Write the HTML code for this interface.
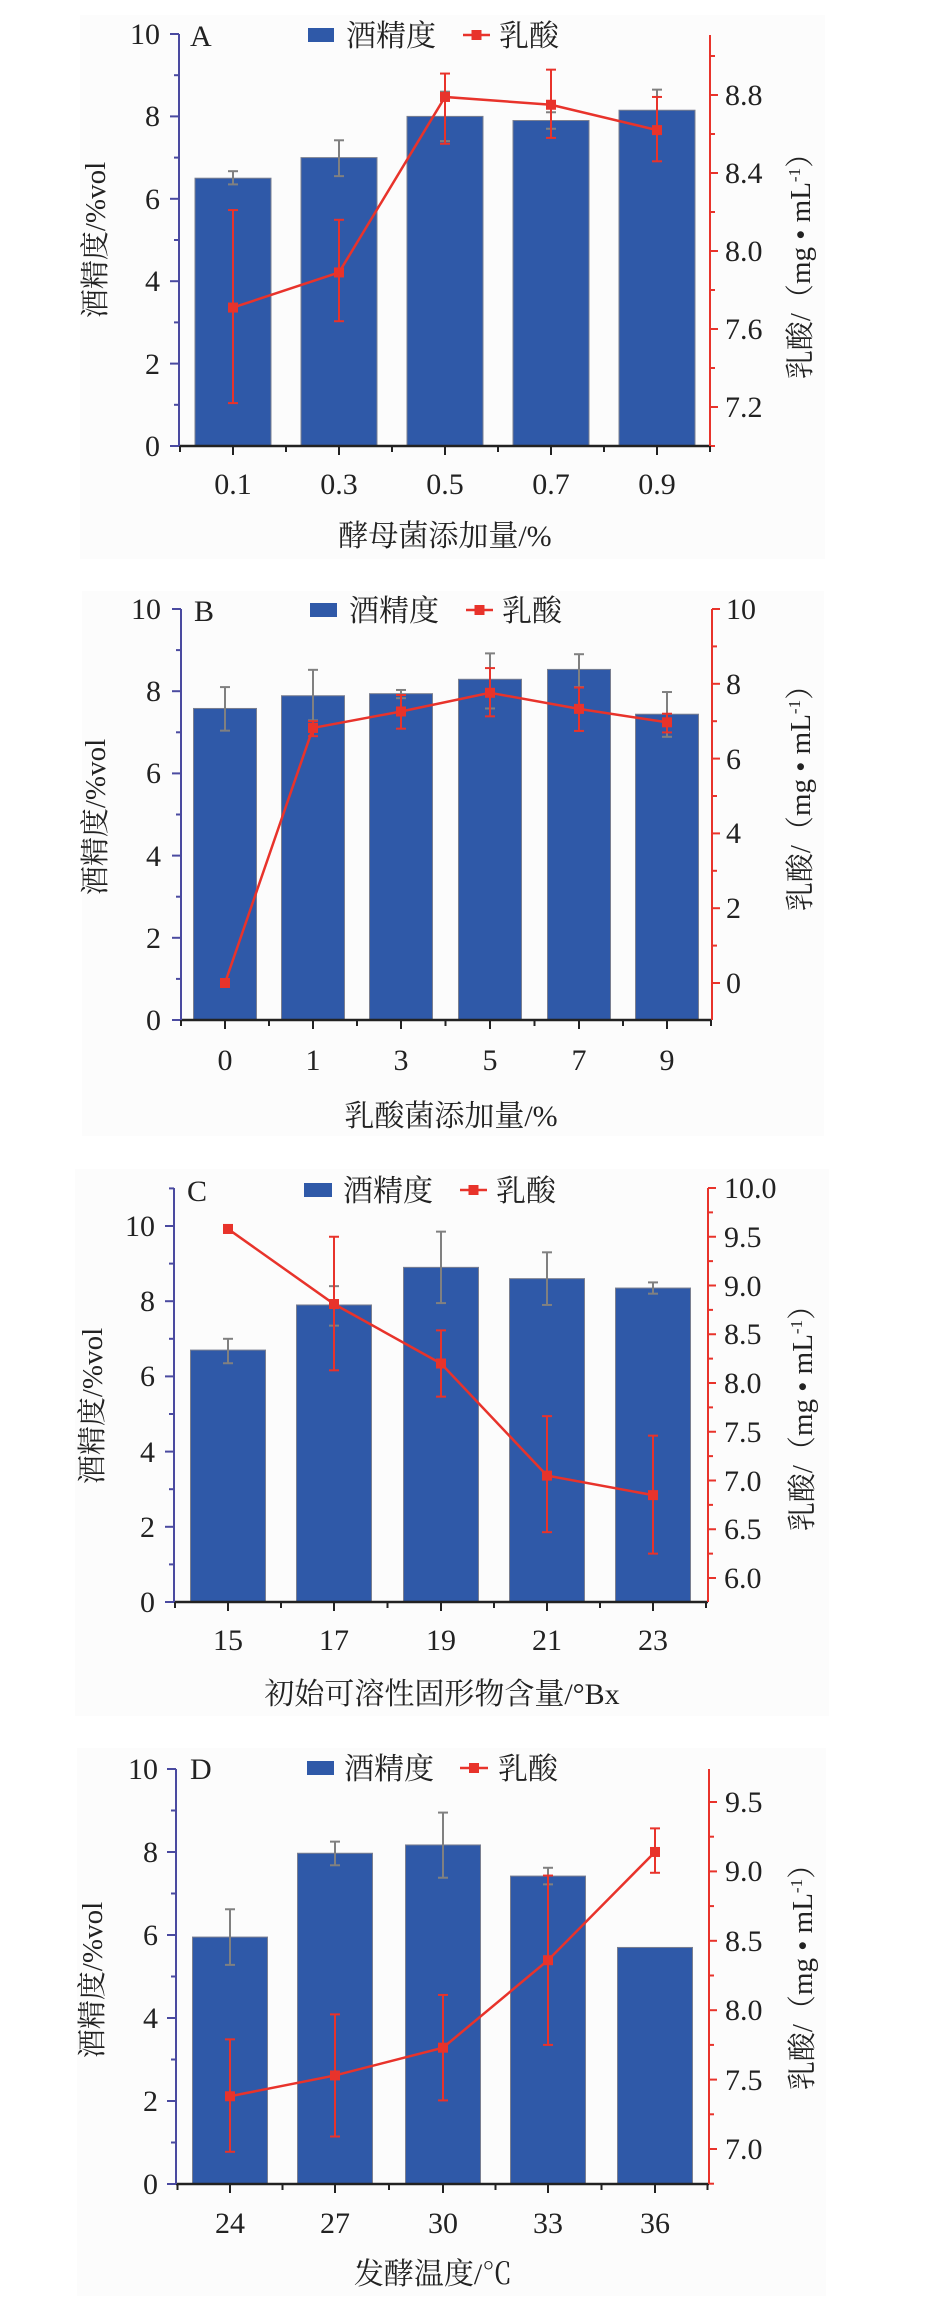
<!DOCTYPE html>
<html><head><meta charset="utf-8">
<style>
html,body{margin:0;padding:0;background:#fff;}
svg{display:block;}
.t{font-family:"Liberation Serif","Noto Serif CJK SC","Noto Sans CJK SC",serif;font-size:30px;fill:#222;}
.c{font-family:"Liberation Serif","Noto Serif CJK SC","Noto Sans CJK SC",serif;font-size:29px;fill:#222;}
</style></head>
<body>
<svg id="s" width="940" height="2313" viewBox="0 0 940 2313" xmlns="http://www.w3.org/2000/svg">
<rect x="80" y="15" width="745" height="544" fill="#fcfcfc"/>
<rect x="82" y="591" width="742" height="545" fill="#fcfcfc"/>
<rect x="75" y="1169" width="754" height="547" fill="#fcfcfc"/>
<rect x="77" y="1748" width="749" height="548" fill="#fcfcfc"/>
<g id="g"></g>

<!-- Panel A text -->
<g class="t" text-anchor="end">
<text x="160" y="456">0</text><text x="160" y="374">2</text><text x="160" y="291">4</text><text x="160" y="209">6</text><text x="160" y="126">8</text><text x="160" y="44">10</text>
</g>
<g class="t">
<text x="725" y="417">7.2</text><text x="725" y="339">7.6</text><text x="725" y="261">8.0</text><text x="725" y="183">8.4</text><text x="725" y="105">8.8</text>
<text x="190" y="46">A</text>
<text x="346" y="46">酒精度</text><text x="499" y="46">乳酸</text>
</g>
<g class="t" text-anchor="middle">
<text x="233" y="494">0.1</text><text x="339" y="494">0.3</text><text x="445" y="494">0.5</text><text x="551" y="494">0.7</text><text x="657" y="494">0.9</text>
<text x="445" y="546">酵母菌添加量/%</text>
</g>
<text class="c" text-anchor="middle" transform="translate(105,240) rotate(-90)">酒精度/%vol</text>
<text class="c" text-anchor="middle" transform="translate(810,259) rotate(-90)">乳酸/（mg • mL<tspan dy="-10" font-size="17">-1</tspan><tspan dy="10">）</tspan></text>

<!-- Panel B text -->
<g class="t" text-anchor="end">
<text x="161" y="1030">0</text><text x="161" y="948">2</text><text x="161" y="866">4</text><text x="161" y="783">6</text><text x="161" y="701">8</text><text x="161" y="619">10</text>
</g>
<g class="t">
<text x="726" y="993">0</text><text x="726" y="918">2</text><text x="726" y="843">4</text><text x="726" y="769">6</text><text x="726" y="694">8</text><text x="726" y="619">10</text>
<text x="194" y="621">B</text>
<text x="349" y="621">酒精度</text><text x="502" y="621">乳酸</text>
</g>
<g class="t" text-anchor="middle">
<text x="225" y="1070">0</text><text x="313" y="1070">1</text><text x="401" y="1070">3</text><text x="490" y="1070">5</text><text x="579" y="1070">7</text><text x="667" y="1070">9</text>
<text x="451" y="1126">乳酸菌添加量/%</text>
</g>
<text class="c" text-anchor="middle" transform="translate(105,817) rotate(-90)">酒精度/%vol</text>
<text class="c" text-anchor="middle" transform="translate(810,791) rotate(-90)">乳酸/（mg • mL<tspan dy="-10" font-size="17">-1</tspan><tspan dy="10">）</tspan></text>

<!-- Panel C text -->
<g class="t" text-anchor="end">
<text x="155" y="1612">0</text><text x="155" y="1537">2</text><text x="155" y="1462">4</text><text x="155" y="1386">6</text><text x="155" y="1311">8</text><text x="155" y="1236">10</text>
</g>
<g class="t">
<text x="724" y="1588">6.0</text><text x="724" y="1539">6.5</text><text x="724" y="1491">7.0</text><text x="724" y="1442">7.5</text><text x="724" y="1393">8.0</text><text x="724" y="1344">8.5</text><text x="724" y="1296">9.0</text><text x="724" y="1247">9.5</text><text x="724" y="1198">10.0</text>
<text x="187" y="1201">C</text>
<text x="343" y="1201">酒精度</text><text x="496" y="1201">乳酸</text>
</g>
<g class="t" text-anchor="middle">
<text x="228" y="1650">15</text><text x="334" y="1650">17</text><text x="441" y="1650">19</text><text x="547" y="1650">21</text><text x="653" y="1650">23</text>
<text x="442" y="1704">初始可溶性固形物含量/°Bx</text>
</g>
<text class="c" text-anchor="middle" transform="translate(102,1406) rotate(-90)">酒精度/%vol</text>
<text class="c" text-anchor="middle" transform="translate(812,1411) rotate(-90)">乳酸/（mg • mL<tspan dy="-10" font-size="17">-1</tspan><tspan dy="10">）</tspan></text>

<!-- Panel D text -->
<g class="t" text-anchor="end">
<text x="158" y="2194">0</text><text x="158" y="2111">2</text><text x="158" y="2028">4</text><text x="158" y="1945">6</text><text x="158" y="1862">8</text><text x="158" y="1779">10</text>
</g>
<g class="t">
<text x="725" y="2159">7.0</text><text x="725" y="2090">7.5</text><text x="725" y="2020">8.0</text><text x="725" y="1951">8.5</text><text x="725" y="1881">9.0</text><text x="725" y="1812">9.5</text>
<text x="190" y="1779">D</text>
<text x="344" y="1779">酒精度</text><text x="498" y="1779">乳酸</text>
</g>
<g class="t" text-anchor="middle">
<text x="230" y="2233">24</text><text x="335" y="2233">27</text><text x="443" y="2233">30</text><text x="548" y="2233">33</text><text x="655" y="2233">36</text>
<text x="433" y="2284">发酵温度/℃</text>
</g>
<text class="c" text-anchor="middle" transform="translate(812,1970) rotate(-90)">乳酸/（mg • mL<tspan dy="-10" font-size="17">-1</tspan><tspan dy="10">）</tspan></text>
<text class="c" text-anchor="middle" transform="translate(102,1980) rotate(-90)">酒精度/%vol</text>
</svg>
<script>
(function(){
var B='#2f59a8',R='#e8332b',AX='#4a4aa0',G='#808080';
var P=[
{lx:179,rx:710,y0:446,lu:41.2,ltop:34,rtop:35,
 rf:function(v){return 446-(v-7)*195;},rminor:[7.0,7.4,7.8,8.2,8.6,9.0],rmajor:[7.2,7.6,8.0,8.4,8.8],
 cx:[233,339,445,551,657],bw:76,
 bars:[6.5,7.0,8.0,7.9,8.15],ge:[[6.67,6.35],[7.42,6.55],[8.6,7.4],[8.1,7.7],[8.65,7.65]],
 rd:[7.71,7.89,8.79,8.75,8.62],re:[[8.21,7.22],[8.16,7.64],[8.91,8.55],[8.93,8.58],[8.79,8.46]],
 lg:[308,334,463,490,35]},
{lx:181,rx:712,y0:1020,lu:41.1,ltop:609,rtop:609,
 rf:function(v){return 983-v*37.4;},rminor:[-1,1,3,5,7,9],rmajor:[0,2,4,6,8,10],
 cx:[225,313,401,490,579,667],bw:63,
 bars:[7.58,7.89,7.94,8.29,8.53,7.44],ge:[[8.1,7.04],[8.52,7.29],[8.03,7.83],[8.92,7.58],[8.9,8.1],[7.98,6.89]],
 rd:[0,6.82,7.26,7.76,7.33,6.97],re:[null,[7.0,6.6],[7.7,6.8],[8.42,7.13],[7.9,6.74],[7.2,6.7]],
 lg:[310,337,466,493,610]},
{lx:174,rx:708,y0:1602,lu:37.6,ltop:1188,rtop:1188,
 rf:function(v){return 1578-(v-6)*97.5;},rminor:[5.75,6.25,6.75,7.25,7.75,8.25,8.75,9.25,9.75],rmajor:[6,6.5,7,7.5,8,8.5,9,9.5,10],
 cx:[228,334,441,547,653],bw:75,
 bars:[6.7,7.9,8.9,8.6,8.35],ge:[[7.0,6.35],[8.4,7.35],[9.85,7.95],[9.3,7.9],[8.5,8.2]],
 rd:[9.58,8.81,8.2,7.05,6.85],re:[[9.62,9.54],[9.5,8.13],[8.54,7.86],[7.66,6.47],[7.46,6.25]],
 lg:[304,332,460,487,1190]},
{lx:176,rx:709,y0:2184,lu:41.5,ltop:1769,rtop:1769,
 rf:function(v){return 2149-(v-7)*138.8;},rminor:[6.75,7.25,7.75,8.25,8.75,9.25,9.75],rmajor:[7,7.5,8,8.5,9,9.5],
 cx:[230,335,443,548,655],bw:75,
 bars:[5.95,7.97,8.17,7.42,5.7],ge:[[6.62,5.28],[8.25,7.68],[8.95,7.38],[7.62,7.22],null],
 rd:[7.38,7.53,7.73,8.36,9.14],re:[[7.79,6.98],[7.97,7.09],[8.11,7.35],[8.97,7.75],[9.31,8.99]],
 lg:[307,334,460,488,1768]}
];
var s='';
function L(x1,y1,x2,y2,c,w){s+='<line x1="'+x1+'" y1="'+y1+'" x2="'+x2+'" y2="'+y2+'" stroke="'+c+'" stroke-width="'+w+'"/>';}
P.forEach(function(p){
 var ly=function(v){return p.y0-v*p.lu;};
 p.bars.forEach(function(v,i){var y=ly(v);s+='<rect x="'+(p.cx[i]-p.bw/2)+'" y="'+y+'" width="'+p.bw+'" height="'+(p.y0-y)+'" fill="'+B+'" stroke="#7a7f90" stroke-width="1"/>';});
 p.ge.forEach(function(e,i){if(!e)return;var x=p.cx[i];L(x,ly(e[0]),x,ly(e[1]),G,2);L(x-5,ly(e[0]),x+5,ly(e[0]),G,2);L(x-5,ly(e[1]),x+5,ly(e[1]),G,2);});
 L(p.lx,p.y0,p.rx,p.y0,'#222',2.5);
 L(p.lx,p.ltop,p.lx,p.y0,AX,2);
 for(var v=0;v*p.lu<=p.y0-p.ltop+1;v++){var y=ly(v);L(p.lx-(v%2?5:9),y,p.lx,y,AX,2);}
 L(p.rx,p.rtop,p.rx,p.y0,R,2);
 p.rmajor.forEach(function(v){var y=p.rf(v);L(p.rx,y,p.rx+8,y,R,2);});
 p.rminor.forEach(function(v){var y=p.rf(v);if(y<=p.y0&&y>=p.rtop)L(p.rx,y,p.rx+5,y,R,2);});
 p.cx.forEach(function(x,i){L(x,p.y0,x,p.y0+9,'#222',2);if(i>0){var m=(x+p.cx[i-1])/2;L(m,p.y0,m,p.y0+6,'#222',2);}});
 var st=p.cx[1]-p.cx[0];L(p.cx[0]-st/2,p.y0,p.cx[0]-st/2,p.y0+6,'#222',2);L(p.cx[p.cx.length-1]+st/2,p.y0,p.cx[p.cx.length-1]+st/2,p.y0+6,'#222',2);
 p.re.forEach(function(e,i){if(!e)return;var x=p.cx[i];L(x,p.rf(e[0]),x,p.rf(e[1]),R,2);L(x-5,p.rf(e[0]),x+5,p.rf(e[0]),R,2);L(x-5,p.rf(e[1]),x+5,p.rf(e[1]),R,2);});
 var pts=p.rd.map(function(v,i){return p.cx[i]+','+p.rf(v);}).join(' ');
 s+='<polyline points="'+pts+'" fill="none" stroke="'+R+'" stroke-width="2.5"/>';
 p.rd.forEach(function(v,i){s+='<rect x="'+(p.cx[i]-5)+'" y="'+(p.rf(v)-5)+'" width="10" height="10" fill="'+R+'"/>';});
 var g=p.lg;
 s+='<rect x="'+g[0]+'" y="'+(g[4]-7)+'" width="'+(g[1]-g[0])+'" height="14" fill="'+B+'"/>';
 L(g[2],g[4],g[3],g[4],R,2.5);
 s+='<rect x="'+((g[2]+g[3])/2-5)+'" y="'+(g[4]-5)+'" width="10" height="10" fill="'+R+'"/>';
});
document.getElementById('g').innerHTML=s;
})();
</script>
</body></html>
